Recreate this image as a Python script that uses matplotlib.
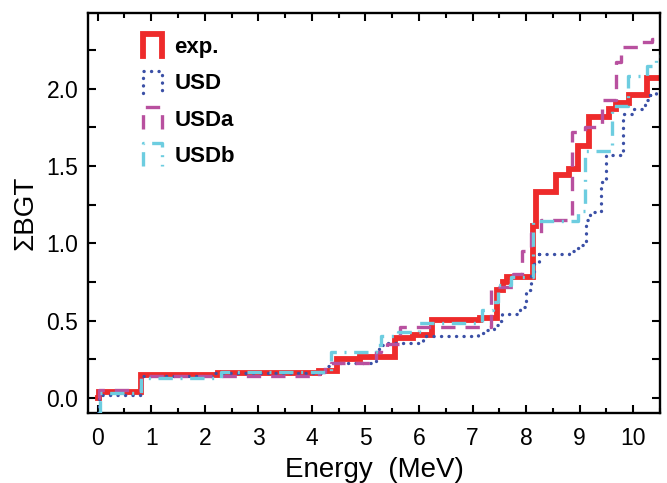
import matplotlib
matplotlib.use('Agg')
import matplotlib.pyplot as plt
from matplotlib.legend_handler import HandlerBase
from matplotlib.lines import Line2D
from matplotlib.ticker import MultipleLocator, FormatStrFormatter

plt.rcParams['font.family'] = ['Liberation Sans', 'DejaVu Sans']

# ---- data (cumulative B(GT) step functions) ----
exp_E = [0.0, 0.03, 0.81, 2.25, 4.14, 4.46, 4.9, 5.55, 5.88, 6.25, 7.13, 7.46, 7.56, 7.65,
         8.12, 8.19, 8.56, 8.81, 8.96, 9.17, 9.55, 9.68, 9.93, 10.26, 10.5]
exp_B = [0.0, 0.04, 0.15, 0.16, 0.175, 0.25, 0.265, 0.39, 0.405, 0.505, 0.515, 0.70, 0.75, 0.785,
         1.11, 1.335, 1.44, 1.48, 1.63, 1.815, 1.87, 1.91, 1.96, 2.07, 2.07]

usd_E = [0.0, 0.03, 0.81, 2.2, 4.24, 4.3, 4.37, 5.2, 5.26, 5.4, 6.0, 6.07, 7.1, 7.25, 7.4, 7.5,
         7.55, 7.88, 8.0, 8.1, 8.15, 8.25, 8.8, 8.95, 9.05, 9.12, 9.2, 9.4, 9.5, 9.8, 10.0,
         10.22, 10.32, 10.42, 10.5]
usd_B = [-0.1, 0.02, 0.14, 0.16, 0.19, 0.21, 0.225, 0.30, 0.34, 0.355, 0.365, 0.40, 0.42, 0.44,
         0.47, 0.50, 0.545, 0.59, 0.70, 0.80, 0.88, 0.93, 0.95, 0.97, 0.99, 1.15, 1.20, 1.40,
         1.57, 1.84, 1.87, 1.93, 1.96, 1.99, 1.99]

usda_E = [0.0, 0.03, 0.81, 2.2, 4.14, 4.25, 4.35, 5.2, 5.3, 5.4, 5.65, 7.35, 7.75, 7.93, 8.1,
          8.27, 8.86, 9.1, 9.42, 9.68, 9.78, 10.15, 10.35, 10.5]
usda_B = [0.0, 0.05, 0.14, 0.145, 0.17, 0.21, 0.225, 0.30, 0.32, 0.35, 0.46, 0.72, 0.80, 0.95,
          1.07, 1.15, 1.72, 1.75, 1.93, 2.17, 2.27, 2.30, 2.32, 2.32]

usdb_E = [0.0, 0.05, 0.81, 2.3, 4.35, 5.2, 5.3, 5.6, 6.0, 7.17, 7.38, 7.48, 7.72, 8.12, 8.96,
          9.1, 9.6, 9.9, 10.25, 10.43, 10.5]
usdb_B = [-0.1, 0.03, 0.13, 0.17, 0.30, 0.34, 0.40, 0.43, 0.485, 0.57, 0.62, 0.73, 0.78, 1.145,
          1.21, 1.60, 1.89, 2.08, 2.15, 2.21, 2.21]

labels = ['exp.', 'USD', 'USDa', 'USDb']
colors = ['#ee2b2b', '#3b50a6', '#b8509f', '#6dcde0']

fig = plt.figure(figsize=(6.67, 4.83), dpi=100)
ax = fig.add_axes([88/667, 70/483, 572/667, 400/483])

l_exp, = ax.plot(exp_E, exp_B, drawstyle='steps-post', color=colors[0], lw=4.2,
                 solid_joinstyle='miter', label=labels[0], zorder=2)
l_usd, = ax.plot(usd_E, usd_B, drawstyle='steps-post', color=colors[1], lw=2.4,
                 linestyle=(0, (0.05, 2.2)), dash_capstyle='round', label=labels[1], zorder=3)
l_usda, = ax.plot(usda_E, usda_B, drawstyle='steps-post', color=colors[2], lw=2.4,
                  linestyle=(0, (4.3, 3.0)), label=labels[2], zorder=3)
l_usdb, = ax.plot(usdb_E, usdb_B, drawstyle='steps-post', color=colors[3], lw=2.4,
                  linestyle=(0, (4.3, 2.3, 0.6, 2.3)), label=labels[3], zorder=3)

ax.set_xlim(-0.18, 10.5)
ax.set_ylim(-0.097, 2.49)

ax.xaxis.set_major_locator(MultipleLocator(1))
ax.xaxis.set_minor_locator(MultipleLocator(0.5))
ax.yaxis.set_major_locator(MultipleLocator(0.5))
ax.yaxis.set_minor_locator(MultipleLocator(0.25))
ax.yaxis.set_major_formatter(FormatStrFormatter('%.1f'))

for s in ax.spines.values():
    s.set_linewidth(1.7)
ax.tick_params(which='both', direction='in', top=True, right=True, width=1.5, labelsize=16.5)
ax.tick_params(axis='x', which='major', length=5.5, pad=10)
ax.tick_params(axis='x', which='minor', length=3.5)
ax.tick_params(axis='y', which='both', length=5.5, pad=7)

ax.set_xlabel('Energy  (MeV)', fontsize=20, labelpad=5)
ax.set_ylabel('\u03a3BGT', fontsize=20, labelpad=6)


class StepHandler(HandlerBase):
    def create_artists(self, legend, orig_handle, xdescent, ydescent, width, height,
                       fontsize, trans):
        x0 = -xdescent
        x1 = x0 + width
        y0 = -ydescent
        y1 = y0 + height
        ln = Line2D([x0, x0, x1, x1], [y0, y1, y1, y0])
        ln.update_from(orig_handle)
        ln.set_drawstyle('default')
        ln.set_transform(trans)
        return [ln]


handler = StepHandler()
ax.legend([l_exp, l_usd, l_usda, l_usdb], labels, loc='upper left',
          bbox_to_anchor=(0.077, 0.975), frameon=False, borderpad=0,
          handlelength=0.85, handleheight=1.15, handletextpad=0.55, labelspacing=0.58,
          prop={'size': 16, 'weight': 'bold'},
          handler_map={l: handler for l in [l_exp, l_usd, l_usda, l_usdb]})

fig.savefig('out.png', dpi=100)
